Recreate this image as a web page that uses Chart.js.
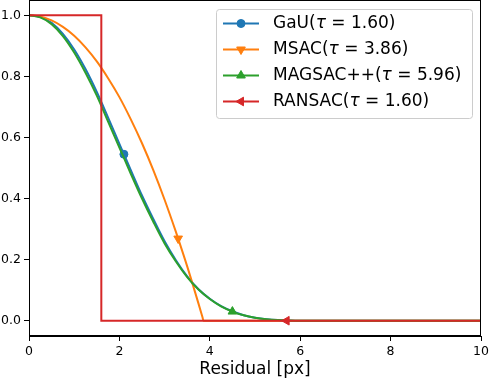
<!DOCTYPE html>
<html>
<head>
<meta charset="utf-8">
<script src="https://cdn.jsdelivr.net/npm/chart.js@4.4.0/dist/chart.umd.min.js"></script>
<style>
  html, body { margin: 0; padding: 0; background: #fff; }
  #wrap { width: 489px; height: 380px; position: relative; }
</style>
</head>
<body>
<div id="wrap"><canvas id="c"></canvas></div>
<script>
// tick labels
const xTicks = [0, 2, 4, 6, 8, 10];
const yTicks = [0, 0.2, 0.4, 0.6, 0.8, 1.0];

// GaU (tau = 1.60)
const gauX = [0, 0.25, 0.5, 0.75, 1, 1.25, 1.5, 1.75, 2, 2.1, 2.25, 2.5, 2.75, 3, 3.25, 3.5, 3.75, 4, 4.25, 4.5, 4.75, 5, 5.25, 5.5, 5.75, 6, 10];
const gauY = [1, 0.994, 0.975, 0.939, 0.888, 0.824, 0.749, 0.665, 0.579, 0.545, 0.494, 0.41, 0.333, 0.26, 0.198, 0.145, 0.103, 0.072, 0.048, 0.031, 0.018, 0.01, 0.005, 0.002, 0.0007, 0, 0];

// MSAC (tau = 3.86)
const msacX = [0, 0.25, 0.5, 0.75, 1, 1.25, 1.5, 1.75, 2, 2.25, 2.5, 2.75, 3, 3.25, 3.3, 3.5, 3.75, 3.84, 3.86, 10];
const msacY = [1, 0.996, 0.983, 0.962, 0.933, 0.895, 0.849, 0.794, 0.732, 0.66, 0.581, 0.493, 0.396, 0.291, 0.269, 0.178, 0.056, 0.0103, 0, 0];

// MAGSAC++ (tau = 5.96)
const magX = [0, 0.25, 0.5, 0.75, 1, 1.25, 1.5, 1.75, 2, 2.25, 2.5, 2.75, 3, 3.25, 3.5, 3.75, 4, 4.25, 4.5, 4.75, 5, 5.25, 5.5, 5.75, 5.96, 10];
const magY = [1, 0.993, 0.971, 0.932, 0.878, 0.812, 0.737, 0.652, 0.567, 0.482, 0.4, 0.324, 0.253, 0.194, 0.143, 0.102, 0.071, 0.047, 0.03, 0.018, 0.01, 0.005, 0.002, 0.0006, 0, 0];

// RANSAC (tau = 1.60)
const ranX = [0, 1.6, 1.6, 5.7, 10];
const ranY = [1, 1, 0, 0, 0];

// legend
const names = ['GaU', 'MSAC', 'MAGSAC++', 'RANSAC'];
const taus = ['1.60', '3.86', '5.96', '1.60'];
const colors = ['#1f77b4', '#ff7f0e', '#2ca02c', '#d62728'];
const markerAt = [2.1, 3.3, 4.5, 5.7];
const markerStyle = [
    { pointStyle: 'circle', rotation: 0, radius: 4 },
    { pointStyle: 'triangle', rotation: 180, radius: 5 },
    { pointStyle: 'triangle', rotation: 0, radius: 5 },
    { pointStyle: 'triangle', rotation: 270, radius: 5 },
];

const toPoints = (xs, ys) => xs.map((x, i) => ({ x: x, y: ys[i] }));

function makeSet(i, xs, ys, smooth, order) {
    return {
        label: names[i],
        data: toPoints(xs, ys),
        borderColor: colors[i],
        backgroundColor: colors[i],
        borderWidth: 2,
        cubicInterpolationMode: smooth ? 'monotone' : 'default',
        tension: 0,
        order: order,
        pointStyle: markerStyle[i].pointStyle,
        rotation: markerStyle[i].rotation,
        pointBorderWidth: 1,
        pointRadius: (c) => (c.raw && c.raw.x === markerAt[i] && c.dataIndex !== 1 ? markerStyle[i].radius : 0),
        pointHoverRadius: 0,
    };
}

const font = '"DejaVu Sans", sans-serif';

// outer frame (top/right spines)
const framePlugin = {
    id: 'frame',
    afterDraw(chart) {
        const { ctx, chartArea: a } = chart;
        ctx.save();
        ctx.strokeStyle = '#000';
        ctx.lineWidth = 1;
        ctx.strokeRect(Math.round(a.left) + 0.5, Math.round(a.top) + 0.5,
            Math.round(a.right - a.left) - 1, Math.round(a.bottom - a.top) - 1);
        ctx.restore();
    },
};

// matplotlib style legend
const legendPlugin = {
    id: 'mplLegend',
    afterDraw(chart) {
        const ctx = chart.ctx;
        const bx = 216, by = 9, bw = 256, bh = 109;
        ctx.save();
        ctx.beginPath();
        ctx.roundRect(bx + 0.5, by + 0.5, bw, bh, 3);
        ctx.fillStyle = 'rgba(255,255,255,0.8)';
        ctx.fill();
        ctx.strokeStyle = '#cccccc';
        ctx.lineWidth = 1;
        ctx.stroke();

        names.forEach((n, i) => {
            const y = 23.5 + i * 26;
            ctx.strokeStyle = colors[i];
            ctx.lineWidth = 2;
            ctx.beginPath();
            ctx.moveTo(223, y);
            ctx.lineTo(259, y);
            ctx.stroke();
            ctx.fillStyle = colors[i];
            ctx.lineWidth = 1;
            Chart.helpers.drawPoint(ctx, {
                pointStyle: markerStyle[i].pointStyle,
                rotation: markerStyle[i].rotation,
                radius: markerStyle[i].radius,
                borderWidth: 1,
            }, 241, y);

            ctx.fillStyle = '#000';
            ctx.textBaseline = 'middle';
            ctx.textAlign = 'left';
            let x = 273;
            const parts = [[n + '(', ''], ['\u03c4', 'italic '], [' = ' + taus[i] + ')', '']];
            parts.forEach(([t, s]) => {
                ctx.font = s + '17px ' + font;
                ctx.fillText(t, x, y);
                x += ctx.measureText(t).width;
            });
        });
        ctx.restore();
    },
};

new Chart(document.getElementById('c'), {
    type: 'line',
    data: {
        datasets: [
            makeSet(0, gauX, gauY, true, 4),
            makeSet(1, msacX, msacY, true, 3),
            makeSet(2, magX, magY, true, 2),
            makeSet(3, ranX, ranY, false, 1),
        ],
    },
    options: {
        responsive: true,
        maintainAspectRatio: false,
        animation: false,
        layout: { padding: { left: 0, right: 8, top: 0, bottom: 0 } },
        plugins: { legend: { display: false }, tooltip: { enabled: false } },
        scales: {
            x: {
                type: 'linear',
                min: 0,
                max: 10,
                afterBuildTicks: (s) => { s.ticks = xTicks.map(v => ({ value: v })); },
                afterFit: (s) => { s.height = 44; s.paddingLeft = 0; s.paddingRight = 0; },
                ticks: { color: '#000', font: { family: font, size: 12.5 }, padding: 3, maxRotation: 0,
                    callback: (v) => String(v) },
                grid: { drawOnChartArea: false, drawTicks: true, tickLength: 5, tickColor: '#000', tickWidth: 1 },
                border: { display: true, color: '#000', width: 1 },
                title: { display: true, text: 'Residual [px]', color: '#000',
                    font: { family: font, size: 17 }, padding: { top: 0, bottom: 0 } },
            },
            y: {
                type: 'linear',
                min: -0.05,
                max: 1.05,
                afterBuildTicks: (s) => { s.ticks = yTicks.map(v => ({ value: v })); },
                afterFit: (s) => { s.width = 29; s.paddingTop = 0; s.paddingBottom = 0; },
                ticks: { color: '#000', font: { family: font, size: 12.5 }, padding: 3,
                    callback: (v) => v.toFixed(1) },
                grid: { drawOnChartArea: false, drawTicks: true, tickLength: 5, tickColor: '#000', tickWidth: 1 },
                border: { display: true, color: '#000', width: 1 },
            },
        },
    },
    plugins: [framePlugin, legendPlugin],
});
</script>
</body>
</html>
